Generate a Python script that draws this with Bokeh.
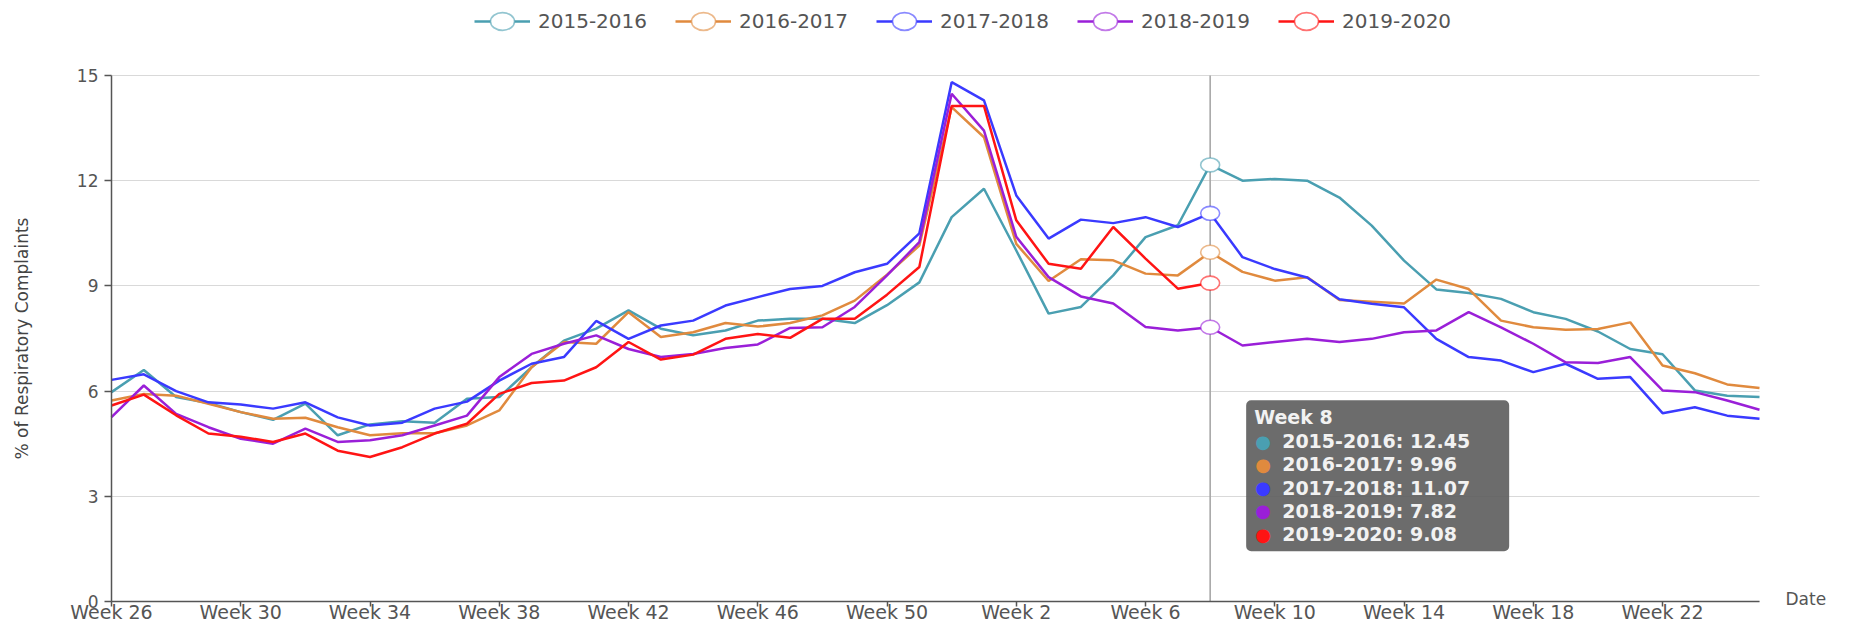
import math
from bokeh.plotting import figure
from bokeh.models import Range1d, FixedTicker, Legend, LegendItem, Label, BoxAnnotation
from bokeh.embed import file_html
from bokeh.resources import INLINE

# ---------------- data ----------------
weeks = [f"Week {w}" for w in list(range(26, 53)) + list(range(1, 26))]
seasons = ["2015-2016", "2016-2017", "2017-2018", "2018-2019", "2019-2020"]
colors = ["#4a9fb1", "#e08a3e", "#3a3aff", "#9a1fd8", "#ff1414"]

s2015_2016 = [5.97, 6.6, 5.83, 5.66, 5.4, 5.18, 5.64, 4.74, 5.05, 5.14, 5.1, 5.78, 5.83,
              6.68, 7.44, 7.78, 8.3, 7.78, 7.59, 7.73, 8.01, 8.06, 8.06, 7.94, 8.45, 9.1,
              10.96, 11.77, 10.01, 8.21, 8.4, 9.3, 10.39, 10.73, 12.45,
              12.0, 12.05, 12.0, 11.52, 10.72, 9.72, 8.9, 8.8, 8.63, 8.25, 8.06, 7.7, 7.2,
              7.05, 6.02, 5.87, 5.83]
s2016_2017 = [5.73, 5.92, 5.87, 5.64, 5.4, 5.21, 5.24, 4.97, 4.74, 4.8, 4.8, 5.02, 5.45,
              6.68, 7.4, 7.35, 8.25, 7.54, 7.68, 7.94, 7.84, 7.94, 8.16, 8.58, 9.32, 10.15,
              14.1, 13.24, 10.2, 9.14, 9.76, 9.73, 9.35, 9.3, 9.96,
              9.4, 9.15, 9.25, 8.6, 8.55, 8.5, 9.18, 8.91, 8.01, 7.82, 7.75, 7.77, 7.96,
              6.73, 6.51, 6.19, 6.09]
s2017_2018 = [6.32, 6.48, 6.0, 5.68, 5.62, 5.5, 5.68, 5.25, 5.02, 5.1, 5.5, 5.7, 6.3,
              6.78, 6.97, 8.0, 7.49, 7.87, 8.01, 8.44, 8.68, 8.91, 9.0, 9.39, 9.63, 10.5,
              14.81, 14.29, 11.58, 10.35, 10.89, 10.79, 10.96, 10.68, 11.07,
              9.82, 9.48, 9.24, 8.62, 8.49, 8.39, 7.49, 6.97, 6.87, 6.54, 6.78, 6.35, 6.4,
              5.37, 5.54, 5.3, 5.21]
s2018_2019 = [5.26, 6.16, 5.35, 4.97, 4.64, 4.5, 4.93, 4.55, 4.6, 4.74, 5.02, 5.3, 6.4,
              7.06, 7.35, 7.59, 7.2, 6.97, 7.06, 7.23, 7.33, 7.8, 7.82, 8.4, 9.3, 10.25,
              14.48, 13.43, 10.4, 9.25, 8.7, 8.5, 7.83, 7.73, 7.82,
              7.3, 7.4, 7.49, 7.4, 7.49, 7.68, 7.73, 8.25, 7.82, 7.35, 6.82, 6.8, 6.97,
              6.02, 5.97, 5.73, 5.47]
s2019_2020 = [5.59, 5.9, 5.31, 4.79, 4.7, 4.55, 4.79, 4.3, 4.12, 4.4, 4.79, 5.07, 5.92,
              6.23, 6.3, 6.68, 7.4, 6.9, 7.04, 7.49, 7.63, 7.52, 8.06, 8.06, 8.75, 9.54,
              14.13, 14.13, 10.87, 9.63, 9.49, 10.68, 9.78, 8.92, 9.08]
series = [s2015_2016, s2016_2017, s2017_2018, s2018_2019, s2019_2020]

y_ticks = [0, 3, 6, 9, 12, 15]
x_tick_step = 4
hover_week = "Week 8"
y_label = "% of Respiratory Complaints"
x_label = "Date"

# ---------------- layout / styling constants ----------------
FONT = "DejaVu Sans"
TXT = "#555555"
W, H = 1854, 622
AX_LEFT, AX_RIGHT, AX_TOP, AX_BOTTOM = 111, 1759, 75, 601   # page pixels of the axes box
hover_idx = weeks.index(hover_week)
x_last = len(weeks) - 1
y_lo, y_hi = y_ticks[0], y_ticks[-1]
ppw = (AX_RIGHT - AX_LEFT) / x_last          # pixels per week
ppu = (AX_BOTTOM - AX_TOP) / (y_hi - y_lo)   # pixels per percent
# the plotting frame covers the whole canvas; axes are pinned at x=0 / y=0
x_start, x_end = -AX_LEFT / ppw, x_last + (W - AX_RIGHT) / ppw
y_start, y_end = y_lo - (H - AX_BOTTOM) / ppu, y_hi + AX_TOP / ppu

p = figure(width=W, height=H, output_backend="svg", toolbar_location=None,
           x_range=Range1d(x_start, x_end), y_range=Range1d(y_start, y_end),
           min_border_left=0, min_border_right=0, min_border_top=0, min_border_bottom=0)
p.outline_line_color = None
p.background_fill_color = "white"
p.xgrid.visible = False
p.ygrid.grid_line_color = "#d9d9d9"
p.ygrid.grid_line_width = 1.2
p.ygrid.cross_bounds = (0, x_last)

tick_pos = list(range(0, len(weeks), x_tick_step))
p.xaxis.ticker = FixedTicker(ticks=tick_pos)
p.xaxis.major_label_overrides = {i: weeks[i] for i in tick_pos}
p.xaxis.bounds = (0, x_last)
p.xaxis.fixed_location = y_lo
p.yaxis.ticker = FixedTicker(ticks=y_ticks)
p.yaxis.bounds = (y_lo, y_hi)
p.yaxis.fixed_location = 0

for ax in (p.xaxis[0], p.yaxis[0]):
    ax.axis_line_color = "#555555"
    ax.axis_line_width = 1.5
    ax.major_tick_line_color = "#555555"
    ax.major_tick_line_width = 1.5
    ax.minor_tick_line_color = None
    ax.major_tick_in = 0
    ax.major_label_text_font = FONT
    ax.major_label_text_color = TXT

p.xaxis.major_tick_out = 5
p.xaxis.major_label_standoff = -6
p.xaxis.major_label_text_font_size = "19px"

p.yaxis.major_tick_out = 7
p.yaxis.major_label_standoff = 6
p.yaxis.major_label_text_font_size = "17px"

# value-axis caption, centred on the value axis
p.add_layout(Label(x=(21 - AX_LEFT) / ppw, y=(y_lo + y_hi) / 2, text=y_label,
                   angle=math.pi / 2, text_align="center", text_baseline="middle",
                   text_font=FONT, text_font_size="17px", text_color="#444444"))

# hover guide line (spans the value axis)
p.segment(x0=[hover_idx], y0=[y_lo], x1=[hover_idx], y1=[y_hi], line_color="#a8a8a8",
          line_width=1.6)

line_rs = []
for name, color, vals in zip(seasons, colors, series):
    line_rs.append(p.line(list(range(len(vals))), vals, line_color=color, line_width=2.5))

ell_rs = []
for name, color, vals in zip(seasons, colors, series):
    ell_rs.append(p.ellipse(x=[hover_idx], y=[vals[hover_idx]], width=19, height=14,
                            width_units="screen", height_units="screen",
                            fill_color="white", line_color=color, line_alpha=0.6,
                            line_width=1.6))

items = [LegendItem(label=n, renderers=[lr, er]) for n, lr, er in zip(seasons, line_rs, ell_rs)]
legend = Legend(items=items, orientation="horizontal", location=(474, H - 36),
                glyph_width=56, glyph_height=30, label_standoff=8, spacing=28,
                padding=0, margin=0, border_line_color=None, background_fill_alpha=0,
                label_text_font=FONT, label_text_font_size="20px", label_text_color=TXT)
p.add_layout(legend)

# x axis caption at the end of the axis
p.add_layout(Label(x=x_last, y=y_lo, x_offset=26, y_offset=3, text=x_label,
                   text_baseline="middle", text_align="left", text_font=FONT,
                   text_font_size="17px", text_color=TXT))

# static tooltip for the highlighted week
tip_top = 5.74
box = BoxAnnotation(left=hover_idx + 36 / ppw, right=hover_idx + 299 / ppw,
                    top=tip_top, bottom=tip_top - 151 / ppu,
                    fill_color="#5c5c5c", fill_alpha=0.9, line_color=None, border_radius=5)
p.add_layout(box)
p.add_layout(Label(x=hover_idx, y=tip_top, x_offset=44, y_offset=-17, text=hover_week,
                   text_baseline="middle", text_font=FONT, text_font_style="bold",
                   text_font_size="19px", text_color="#f2f2f2"))
for k, (name, color, vals) in enumerate(zip(seasons, colors, series)):
    yo = -(41 + 23.2 * k)
    p.add_layout(Label(x=hover_idx, y=tip_top, x_offset=53, y_offset=yo, text="\u25cf",
                       text_baseline="middle", text_align="center", text_font=FONT,
                       text_font_size="18px", text_color=color))
    p.add_layout(Label(x=hover_idx, y=tip_top, x_offset=72, y_offset=yo,
                       text=f"{name}: {vals[hover_idx]:.2f}",
                       text_baseline="middle", text_font=FONT, text_font_style="bold",
                       text_font_size="19px", text_color="#f2f2f2"))

open("out.html", "w").write(file_html(p, INLINE))
